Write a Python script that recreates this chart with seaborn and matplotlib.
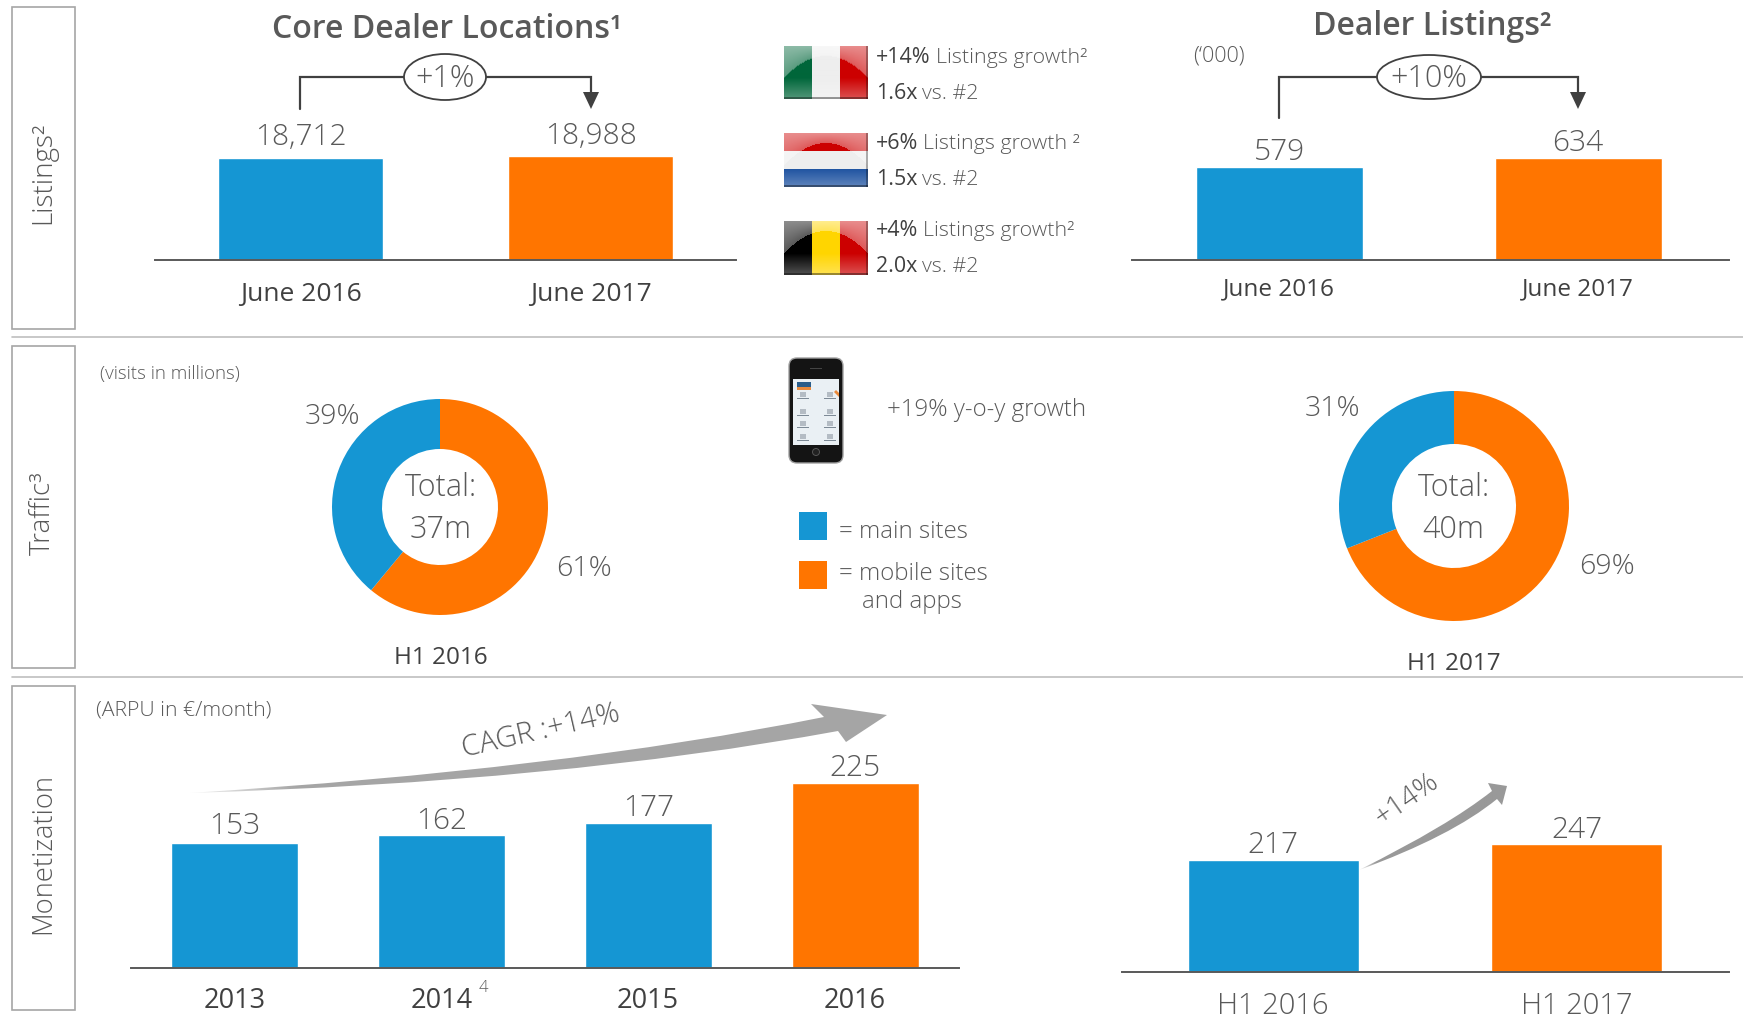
import numpy as np
import pandas as pd
import matplotlib
matplotlib.use('Agg')
import matplotlib.pyplot as plt
from matplotlib.patches import Rectangle, Ellipse, FancyBboxPatch, PathPatch, Polygon, Circle
from matplotlib.path import Path
import seaborn as sns

BLUE = '#1596d3'
ORANGE = '#ff7500'
TXT = '#595959'
DARK = '#404040'

locYears = ['June 2016', 'June 2017']
locValues = [18712, 18988]
listYears = ['June 2016', 'June 2017']
listValues = [579, 634]
arpuYears = ['2013', '2014', '2015', '2016']
arpuValues = [153, 162, 177, 225]
halfYears = ['H1 2016', 'H1 2017']
halfValues = [217, 247]
share2016 = [61, 39]
share2017 = [69, 31]

W, H = 1743, 1018

sns.set_style('white')
plt.rcParams['font.family'] = ['Open Sans', 'DejaVu Sans']

fig = plt.figure(figsize=(W/100, H/100), dpi=100)

def pxAxes(x0, y0, x1, y1, **kw):
    return fig.add_axes([x0/W, 1-y1/H, (x1-x0)/W, (y1-y0)/H], **kw)

def barPanel(cats, vals, colors, axisX, axisY, c0, c1, barW, pxPerUnit, fs, pads, tickFs, tickPad, tickColor, tickWeight='normal'):
    top = axisY-20-vals[-1]*pxPerUnit-60
    ax = pxAxes(axisX[0], top, axisX[1], axisY)
    ax.patch.set_alpha(0)
    d = pd.DataFrame({'cat': cats, 'val': vals})
    s = (c1-c0)/(len(cats)-1)
    sns.barplot(data=d, x='cat', y='val', hue='cat', palette=colors, width=barW/s,
                legend=False, saturation=1, ax=ax)
    ax.set_xlim((axisX[0]-c0)/s, (axisX[1]-c0)/s)
    ax.set_ylim(0, (axisY-top)/pxPerUnit)
    for cont, p in zip(ax.containers, pads):
        ax.bar_label(cont, fmt=lambda v: '{:,.0f}'.format(v), padding=p, fontsize=fs, color=TXT, fontweight='light')
    ax.set_xlabel('')
    ax.set_ylabel('')
    ax.set_yticks([])
    ax.tick_params(axis='x', length=0, pad=tickPad, labelsize=tickFs, labelcolor=tickColor)
    for lab in ax.get_xticklabels():
        lab.set_fontweight(tickWeight)
    for k in ['top', 'left', 'right']:
        ax.spines[k].set_visible(False)
    ax.spines['bottom'].set_color('#595959')
    ax.spines['bottom'].set_linewidth(1.4)
    return ax

def donut(vals, cx, cy, rOut, rIn):
    ax = pxAxes(cx-rOut, cy-rOut, cx+rOut, cy+rOut)
    ax.pie(vals, colors=[ORANGE, BLUE], startangle=90, counterclock=False, radius=1,
           wedgeprops={'width': 1-rIn/rOut, 'linewidth': 0})
    ax.set_xlim(-1, 1)
    ax.set_ylim(-1, 1)
    return ax

barPanel(locYears, locValues, [BLUE, ORANGE], (155, 736), 259.5, 300.5, 591, 165, 101.8/18712, 21.5, [4, 4], 19, 16, DARK)
barPanel(listYears, listValues, [BLUE, ORANGE], (1132, 1729), 259.5, 1279, 1578, 167, 93/579, 21.5, [0, 0], 17.5, 13, DARK)
barPanel(arpuYears, arpuValues, [BLUE, BLUE, BLUE, ORANGE], (131, 959), 968, 234.5, 855, 127, 125.5/153, 21.5, [1, -0.5, 0, 0], 19.5, 14, DARK)
barPanel(halfYears, halfValues, [BLUE, ORANGE], (1122, 1729), 972, 1273, 1576.5, 171, 112.5/217, 21.5, [-0.5, -1], 21, 14, TXT, 'light')

donut(share2016, 440, 507, 108, 58)
donut(share2017, 1454, 506, 115, 62)

# everything else is placed in figure pixels
ov = fig.add_axes([0, 0, 1, 1], zorder=10)
ov.patch.set_alpha(0)
ov.axis('off')
ov.set_xlim(0, W)
ov.set_ylim(H, 0)
ov.set_autoscale_on(False)

def txt(x, y, s, size=15, color=TXT, weight='light', ha='center', va='center', rot=0):
    return ov.text(x, y+2.5, s, fontsize=size, color=color, fontweight=weight, ha=ha, va=va, rotation=rot)

# side boxes and separators
for y0, y1 in [(7, 329), (346, 668), (686, 1010)]:
    ov.add_patch(Rectangle((12, y0), 63, y1-y0, fc='white', ec='#a6a6a6', lw=1.2))
for y in [337, 677]:
    ov.plot([12, 1743], [y, y], color='#bfbfbf', lw=1.2)
txt(43, 170, 'Listings²', 20, rot=90)
txt(43, 511, 'Traffic³', 20, rot=90)
txt(43, 851, 'Monetization', 19.7, rot=90)

# titles
txt(447, 27, 'Core Dealer Locations¹', 23, weight='semibold')
txt(1432, 24, 'Dealer Listings²', 23, weight='semibold')
txt(1219, 53, '(‘000)', 15.5)
txt(100, 371, '(visits in millions)', 13.5, ha='left')
txt(96, 708, '(ARPU in €/month)', 15.3, ha='left')
txt(483, 985, '4', 12)

# growth brackets
def bracket(x0, yStart, x1, yEnd, yTop, ex, ew, eh, label):
    ov.plot([x0, x0, x1, x1], [yStart, yTop, yTop, yEnd-6], color='#404040', lw=1.6, solid_joinstyle='miter')
    ov.add_patch(Polygon([(x1-8, yEnd-11), (x1+8, yEnd-11), (x1, yEnd+6)], fc='#404040', ec='none'))
    ov.add_patch(Ellipse((ex, yTop), ew, eh, fc='white', ec='#404040', lw=1.3, zorder=5))
    txt(ex, yTop-1, label, 22).set_zorder(6)

bracket(300, 109, 591, 103, 77, 445, 82, 46, '+1%')
bracket(1279, 118, 1578, 103, 77, 1429, 104, 44, '+10%')

# flags
def flag(x0, y0, x1, y1, cols, vertical=True):
    h, w = 54, 84
    c = np.array([matplotlib.colors.to_rgb(k) for k in cols])
    yy, xx = np.mgrid[0:h, 0:w]
    xn, yn = xx/(w-1), yy/(h-1)
    if vertical:
        idx = np.minimum((xn*3).astype(int), 2)
    else:
        idx = np.minimum((yn*3).astype(int), 2)
    img = c[idx]
    arc = 0.18+1.67*(xn-0.5)**2
    a = np.where(yn < arc, 0.55-0.2*yn/arc, 0.0)
    a = np.where(yn >= arc, np.clip((yn-0.6)*0.8, 0, 0.35), a)
    img = img*(1-a[..., None])+a[..., None]
    img[-2:] = img[-2:]*0.6
    img[:, -2:] = img[:, -2:]*0.7
    ov.imshow(img, extent=(x0, x1, y1, y0), aspect='auto', interpolation='bilinear', zorder=3)

flag(784, 46, 868, 99, ['#00663a', '#eeeeee', '#cc0000'])
flag(784, 133, 868, 187, ['#cc0000', '#eeeeee', '#134a9c'], vertical=False)
flag(784, 221, 868, 275, ['#000000', '#ffd500', '#cc0000'])

def twoPart(x, y, a, b, size=15.4):
    t = txt(x, y, a, size, color=DARK, weight='normal', ha='left')
    bb = t.get_window_extent(fig.canvas.get_renderer())
    txt(bb.x1+5, y, b, size, ha='left')

twoPart(876, 55, '+14%', 'Listings growth²')
twoPart(876, 91, '1.6x', 'vs. #2')
twoPart(876, 141, '+6%', 'Listings growth ²')
twoPart(876, 177, '1.5x', 'vs. #2')
twoPart(876, 228, '+4%', 'Listings growth²')
twoPart(876, 264, '2.0x', 'vs. #2')

# phone
ov.add_patch(FancyBboxPatch((793, 362), 46, 97, boxstyle='round,pad=4,rounding_size=8', fc='#141414', ec='#a0a0a0', lw=1))
ov.add_patch(Rectangle((793, 379), 46, 66, fc='#eaf0f4', ec='none'))
ov.add_patch(Rectangle((797, 382), 14, 5, fc='#2a5d8a', ec='none'))
ov.add_patch(Rectangle((797, 387), 14, 3, fc='#e98a3c', ec='none'))
ov.add_patch(Polygon([(834, 392), (836, 390), (839, 393), (839, 397)], fc='#e98a3c', ec='none'))
for px in [803, 830]:
    for py in [395, 412, 424, 437]:
        ov.add_patch(Rectangle((px-3, py-3), 6, 5, fc='#b4bcc4', ec='none'))
        ov.add_patch(Rectangle((px-6, py+3), 12, 1.3, fc='#7d8a96', ec='none'))
ov.add_patch(Circle((816, 452), 3.5, fc='#222222', ec='#555555', lw=0.7))
ov.add_patch(Rectangle((810, 368), 12, 1.2, fc='#444444', ec='none'))
txt(887, 408, '+19% y-o-y growth', 17.3, ha='left')

# legend squares
ov.add_patch(Rectangle((799, 512), 28, 28, fc=BLUE, ec='none'))
ov.add_patch(Rectangle((799, 561), 28, 28, fc=ORANGE, ec='none'))
txt(839, 529, '= main sites', 17.3, ha='left')
txt(839, 571, '= mobile sites', 17.3, ha='left')
txt(862, 599, 'and apps', 17.3, ha='left')

# donut labels
txt(333, 414, '39%', 20.5)
txt(584, 566, '61%', 20.5)
txt(441, 485, 'Total:', 22)
txt(441, 527, '37m', 22)
txt(441, 655, 'H1 2016', 17.5, color=DARK, weight='normal')
txt(1333, 406, '31%', 20.5)
txt(1607, 564, '69%', 20.5)
txt(1454, 485, 'Total:', 22)
txt(1453, 527, '40m', 22)
txt(1454, 661, 'H1 2017', 17.5, color=DARK, weight='normal')

# tapered gradient arrows
def taperArrow(tail, c1, up, headTop, tip, headBot, low, c2, shade, ramp):
    verts = [tail, c1, up, headTop, tip, headBot, low, c2, tail, tail]
    codes = [Path.MOVETO, Path.CURVE3, Path.CURVE3, Path.LINETO, Path.LINETO, Path.LINETO, Path.LINETO,
             Path.CURVE3, Path.CURVE3, Path.CLOSEPOLY]
    patch = PathPatch(Path(verts, codes), fc='none', ec='none')
    ov.add_patch(patch)
    xs = [v[0] for v in verts]
    ys = [v[1] for v in verts]
    grad = np.ones((2, 256, 4))*shade
    grad[..., 3] = np.clip(np.linspace(0.1, ramp, 256), 0, 1)
    im = ov.imshow(grad, extent=(min(xs), max(xs), max(ys), min(ys)), aspect='auto', zorder=4)
    im.set_clip_path(patch)

taperArrow((189, 793), (560, 770), (824, 717), (811, 704), (887, 715), (846, 742), (838, 731), (560, 782), 0.65, 6)
taperArrow((1359, 870), (1448.5, 825.5), (1492, 791), (1488, 783), (1507, 786), (1502, 805), (1497, 799), (1452, 836), 0.6, 8)
txt(541, 729, 'CAGR :+14%', 21, rot=13)
txt(1407, 797, '+14%', 20.5, rot=35)

plt.savefig('out.png', dpi=100)
